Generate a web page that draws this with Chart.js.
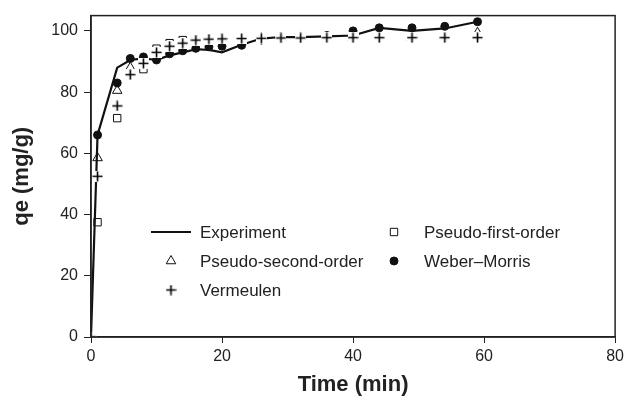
<!DOCTYPE html>
<html>
<head>
<meta charset="utf-8">
<script src="https://cdn.jsdelivr.net/npm/chart.js@4.4.1/dist/chart.umd.min.js"></script>
<style>
  html, body { margin: 0; padding: 0; background: #fff; }
  #wrap { width: 628px; height: 401px; }
</style>
</head>
<body>
<div id="wrap"><canvas id="chart-1" width="628" height="401"></canvas></div>
<script>
const FONT = "'Liberation Sans', Arial, Helvetica, sans-serif";

const times = [0, 1, 4, 6, 8, 10, 12, 14, 16, 18, 20, 23, 26, 29, 32, 36, 40, 44, 49, 54, 59];
const experiment = [0, 66, 88, 90.5, 91, 90.5, 92, 93, 94, 93.8, 93, 95.5, 97.5, 98, 98, 98.2, 98.5, 101, 100, 100.8, 103];
const pseudoFirst = [null, 37.5, 71.5, 85.5, 87.5, 94.2, 96, 97, 97.3, 97.4, 97.5, 97.5, 97.6, 97.6, 97.7, 97.7, 97.7, 97.7, 97.7, 97.7, 97.7];
const pseudoSecond = [null, 58.5, 80.5, 88, 89.5, 92.5, 94.5, 95.5, 96.5, 97, 97.3, 97.5, 97.6, 97.7, 97.8, 97.8, 97.8, 97.8, 97.8, 97.8, 99.4];
const weberMorris = [null, 66, 83, 91, 91.5, 90.5, 92.5, 93.5, 94.3, 94.8, 95, 95.3, 97, 98, 98.2, 98.5, 100, 101, 101, 101.5, 103];
const vermeulen = [0, 52.5, 75.5, 85.7, 89.4, 93, 95, 96, 97, 97.3, 97.4, 97.5, 97.6, 97.7, 97.7, 97.8, 97.8, 97.8, 97.8, 97.8, 97.8];

const xTicks = [0, 20, 40, 60, 80];
const yTicks = [0, 20, 40, 60, 80, 100];

function points(values) {
  const out = [];
  times.forEach((t, i) => {
    if (values[i] !== null) out.push({ x: t, y: values[i] });
  });
  return out;
}

// plus marker with a white box behind it, like the old spreadsheet markers
function plusMarker(size) {
  const c = document.createElement("canvas");
  c.width = size;
  c.height = size;
  const g = c.getContext("2d");
  g.fillStyle = "#fff";
  g.fillRect(0, 0, size, size);
  g.strokeStyle = "#000";
  g.lineWidth = 1.6;
  const m = size / 2;
  g.beginPath();
  g.moveTo(0.5, m);
  g.lineTo(size - 0.5, m);
  g.moveTo(m, 0.5);
  g.lineTo(m, size - 0.5);
  g.stroke();
  return c;
}
const plusIcon = plusMarker(11);

// box around the plot area
const frame = {
  id: "frame",
  afterDatasetsDraw(chart) {
    const { ctx, chartArea } = chart;
    ctx.save();
    ctx.strokeStyle = "#222";
    ctx.lineWidth = 1.5;
    ctx.strokeRect(chartArea.left, chartArea.top, chartArea.right - chartArea.left, chartArea.bottom - chartArea.top);
    ctx.restore();
  },
};

// legend drawn inside the plot, two columns
const insideLegend = {
  id: "insideLegend",
  afterDraw(chart) {
    const ctx = chart.ctx;
    const ds = chart.data.datasets;
    const slots = [
      [0, 151, 232], [1, 394, 232],
      [2, 171, 261], [3, 394, 261],
      [4, 171, 290],
    ];
    ctx.save();
    ctx.font = "17px " + FONT;
    ctx.textBaseline = "middle";
    slots.forEach(([i, x, y]) => {
      const d = ds[i];
      ctx.strokeStyle = "#111";
      if (d.showLine) {
        ctx.lineWidth = 2.2;
        ctx.beginPath();
        ctx.moveTo(x, y);
        ctx.lineTo(x + 40, y);
        ctx.stroke();
      } else {
        ctx.fillStyle = d.pointBackgroundColor;
        ctx.lineWidth = d.pointBorderWidth;
        Chart.helpers.drawPoint(ctx, {
          pointStyle: d.pointStyle,
          radius: d.pointRadius,
          borderWidth: d.pointBorderWidth,
          rotation: 0,
        }, x, y);
      }
      ctx.fillStyle = "#222";
      const tx = i === 1 || i === 3 ? 424 : 200;
      ctx.fillText(d.label, tx, y + 1);
    });
    ctx.restore();
  },
};

const config = {
  type: "scatter",
  data: {
    datasets: [
      {
        label: "Experiment",
        data: points(experiment),
        showLine: true,
        borderColor: "#111",
        borderWidth: 2.2,
        pointRadius: 0,
        order: 2,
      },
      {
        label: "Pseudo-first-order",
        data: points(pseudoFirst),
        pointStyle: "rect",
        pointRadius: 5.2,
        pointBorderWidth: 1,
        pointBorderColor: "#111",
        pointBackgroundColor: "#fff",
        order: 4,
      },
      {
        label: "Pseudo-second-order",
        data: points(pseudoSecond),
        pointStyle: "triangle",
        pointRadius: 5.5,
        pointBorderWidth: 1,
        pointBorderColor: "#111",
        pointBackgroundColor: "#fff",
        order: 3,
      },
      {
        label: "Weber\u2013Morris",
        data: points(weberMorris),
        pointStyle: "circle",
        pointRadius: 4,
        pointBorderWidth: 1,
        pointBorderColor: "#111",
        pointBackgroundColor: "#111",
        order: 1,
      },
      {
        label: "Vermeulen",
        data: points(vermeulen),
        pointStyle: plusIcon,
        pointRadius: 5.5,
        pointBorderWidth: 1.3,
        pointBorderColor: "#111",
        pointBackgroundColor: "#fff",
        order: 0,
      },
    ],
  },
  options: {
    responsive: false,
    animation: false,
    devicePixelRatio: 1,
    layout: { padding: { top: 12, right: 12, left: 0, bottom: 0 } },
    scales: {
      x: {
        type: "linear",
        min: 0,
        max: 80,
        afterFit(scale) { scale.height = 64; },
        afterBuildTicks(scale) { scale.ticks = xTicks.map(v => ({ value: v })); },
        grid: { drawOnChartArea: false, drawTicks: true, tickLength: 6, color: "#222" },
        border: { display: true, color: "#222", width: 1.5 },
        ticks: { color: "#222", padding: 4, font: { family: FONT, size: 16 } },
        title: {
          display: true,
          text: "Time (min)",
          color: "#222",
          padding: { top: 0, bottom: 3 },
          font: { family: FONT, size: 22, weight: "bold" },
        },
      },
      y: {
        min: 0,
        max: 105,
        afterFit(scale) { scale.width = 91; },
        afterBuildTicks(scale) { scale.ticks = yTicks.map(v => ({ value: v })); },
        grid: { drawOnChartArea: false, drawTicks: true, tickLength: 7, color: "#222" },
        border: { display: true, color: "#222", width: 1.5 },
        ticks: { color: "#222", padding: 6, font: { family: FONT, size: 16 } },
        title: {
          display: true,
          text: "qe (mg/g)",
          color: "#222",
          padding: { top: 9, bottom: 0 },
          font: { family: FONT, size: 22, weight: "bold" },
        },
      },
    },
    plugins: {
      legend: { display: false },
      tooltip: { enabled: false },
    },
  },
  plugins: [frame, insideLegend],
};

const chart1 = new Chart(document.getElementById("chart-1"), config);
</script>
</body>
</html>
